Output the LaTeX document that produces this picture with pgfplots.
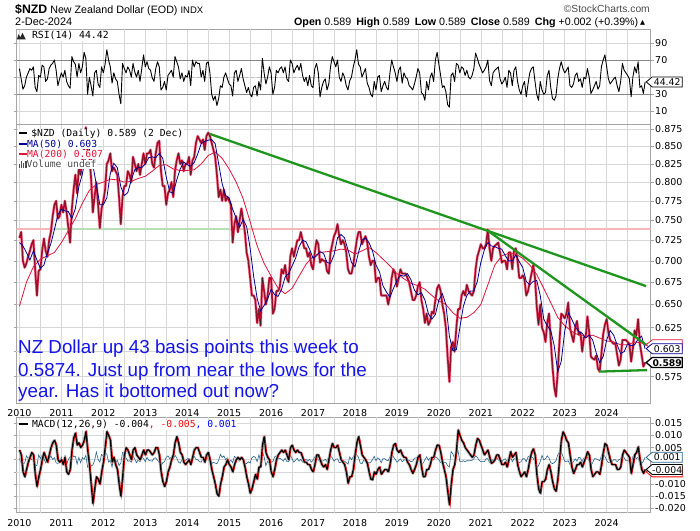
\documentclass[border=0pt]{standalone}
\usepackage{pgfplots}
\pgfplotsset{compat=1.18}
\usepackage{pgfplotstable}
\usepackage{fontspec}
\usetikzlibrary{calc}
\setmainfont{Liberation Sans}
\newfontfamily\dv{DejaVu Sans}
\newfontfamily\dvm{DejaVu Sans Mono}
\definecolor{pricered}{RGB}{210,10,50}
\definecolor{manavy}{RGB}{0,0,150}
\definecolor{macrim}{RGB}{225,20,60}
\definecolor{tgreen}{RGB}{30,150,30}
\definecolor{hpink}{RGB}{244,184,184}
\definecolor{hgreen}{RGB}{184,222,184}
\definecolor{gridc}{RGB}{215,215,215}
\definecolor{framec}{RGB}{165,165,165}
\definecolor{histc}{RGB}{40,100,140}
\definecolor{txtblue}{RGB}{20,20,235}

% semi-monthly rows from Jan 2010: price, RSI, MACD, MACD histogram
\pgfplotstableread{
p r m h
0.728 60 0.004 0.0005
0.735 48 0.002 -0.0013
0.700 36 -0.005 -0.0018
0.692 40 -0.007 -0.0013
0.697 50 -0.004 0.0016
0.705 55 -0.001 0.0005
0.712 60 0.001 0.0013
0.720 58 0.003 0.0001
0.725 62 0.002 0.0002
0.690 38 -0.006 -0.0022
0.660 33 -0.011 -0.0024
0.688 52 -0.007 0.0020
0.690 50 -0.004 0.0005
0.712 64 0.000 0.0020
0.727 62 0.003 0.0005
0.712 45 0.001 -0.0013
0.705 48 -0.001 0.0000
0.725 60 0.002 0.0004
0.735 64 0.005 0.0016
0.755 66 0.007 0.0001
0.770 70 0.008 0.0009
0.775 58 0.006 -0.0013
0.752 40 0.000 -0.0015
0.755 48 -0.001 -0.0009
0.770 55 0.000 0.0010
0.760 50 -0.002 -0.0012
0.775 58 0.001 0.0016
0.760 45 -0.005 -0.0020
0.740 40 -0.006 0.0002
0.722 37 -0.004 0.0012
0.765 74 0.004 0.0030
0.790 68 0.009 0.0012
0.810 65 0.011 0.0014
0.785 50 0.006 -0.0018
0.820 66 0.007 0.0010
0.810 55 0.005 -0.0012
0.830 62 0.006 0.0009
0.845 79 0.008 0.0002
0.878 72 0.0116 0.0018
0.835 30 0.004 -0.0030
0.840 50 -0.002 -0.0016
0.805 40 -0.010 -0.0026
0.760 28 -0.018 -0.0022
0.780 55 -0.012 -0.0004
0.800 58 -0.007 0.0032
0.770 42 -0.008 0.0002
0.740 38 -0.010 -0.0010
0.765 62 -0.005 0.0022
0.775 55 -0.001 0.0014
0.790 65 0.005 0.0026
0.825 82 0.0116 0.0024
0.830 70 0.010 -0.0010
0.840 62 0.008 -0.0002
0.815 43 -0.001 -0.0030
0.820 55 0.001 0.0012
0.815 48 -0.002 -0.0014
0.810 45 -0.004 -0.0002
0.780 30 -0.010 -0.0024
0.745 19 -0.015 -0.0014
0.780 66 -0.007 0.0030
0.795 60 0.002 0.0026
0.795 55 0.005 0.0008
0.815 62 0.004 -0.0006
0.810 58 0.002 -0.0004
0.800 50 0.000 -0.0010
0.835 66 0.004 0.0016
0.825 56 0.005 0.0002
0.815 50 0.002 -0.0012
0.825 58 0.001 0.0000
0.810 45 0.000 -0.0008
0.825 60 0.002 0.0010
0.840 76 0.004 0.0006
0.825 62 0.002 -0.0008
0.840 68 0.004 0.0010
0.840 60 0.004 -0.0002
0.845 58 0.003 -0.0004
0.825 49 0.002 -0.0006
0.820 45 0.003 0.0006
0.840 60 0.005 0.0008
0.855 68 0.005 -0.0002
0.858 62 0.002 -0.0012
0.815 35 -0.005 -0.0026
0.795 38 -0.009 -0.0012
0.795 45 -0.011 -0.0008
0.770 35 -0.009 0.0010
0.785 52 -0.005 0.0016
0.790 55 -0.003 0.0004
0.800 58 0.000 0.0012
0.780 50 0.002 0.0004
0.815 74 0.007 0.0018
0.830 68 0.0095 0.0008
0.840 62 0.007 -0.0010
0.825 48 0.003 -0.0014
0.830 55 0.002 0.0000
0.815 45 -0.001 -0.0012
0.825 52 -0.002 -0.0002
0.825 50 -0.001 0.0004
0.835 58 0.000 0.0006
0.810 40 -0.002 -0.0008
0.830 70 0.001 0.0012
0.835 62 0.004 0.0014
0.855 68 0.005 0.0002
0.865 66 0.005 0.0000
0.860 66 0.003 -0.0008
0.855 50 0.001 -0.0010
0.860 58 0.001 0.0004
0.845 45 -0.001 -0.0008
0.865 66 0.002 0.0012
0.870 68 0.003 0.0004
0.865 55 0.000 -0.0012
0.855 30 -0.004 -0.0016
0.845 23 -0.007 -0.0010
0.835 28 -0.010 -0.0014
0.810 17 -0.014 -0.0016
0.780 25 -0.015 -0.0002
0.790 40 -0.010 0.0022
0.775 38 -0.007 0.0010
0.790 50 -0.003 0.0016
0.775 55 -0.002 0.0000
0.780 48 0.000 0.0008
0.775 42 -0.002 -0.0010
0.770 40 -0.003 -0.0002
0.722 28 -0.005 -0.0012
0.745 55 -0.002 0.0014
0.755 58 0.000 0.0008
0.735 45 0.001 0.0002
0.750 52 0.000 -0.0006
0.765 60 0.001 0.0004
0.750 48 0.000 -0.0004
0.735 40 -0.003 -0.0014
0.710 32 -0.007 -0.0016
0.700 38 -0.010 -0.0008
0.680 30 -0.0138 -0.0014
0.660 27 -0.012 0.0008
0.660 38 -0.009 0.0014
0.655 40 -0.006 0.0010
0.630 28 -0.008 -0.0008
0.645 45 -0.003 0.0020
0.627 35 -0.003 -0.0004
0.680 72 0.006 0.0034
0.665 55 0.0095 0.0012
0.650 42 0.003 -0.0024
0.660 50 0.001 -0.0006
0.680 62 0.000 -0.0016
0.680 55 -0.005 -0.0010
0.640 30 -0.007 -0.0008
0.645 38 -0.004 0.0012
0.665 58 0.000 0.0016
0.665 55 0.002 0.0004
0.670 60 0.003 0.0006
0.690 62 0.004 0.0002
0.685 55 0.003 -0.0006
0.695 62 0.004 0.0006
0.680 48 0.002 -0.0008
0.675 45 0.000 -0.0008
0.705 70 0.005 0.0020
0.715 66 0.006 0.0004
0.705 55 0.004 -0.0010
0.715 60 0.003 -0.0002
0.725 64 0.004 0.0006
0.725 58 0.003 -0.0006
0.735 66 0.003 0.0002
0.725 52 0.001 -0.0010
0.715 45 -0.001 -0.0006
0.715 50 -0.001 0.0002
0.705 40 -0.002 -0.0006
0.710 52 -0.002 0.0002
0.695 40 -0.004 -0.0010
0.690 38 -0.005 -0.0002
0.710 60 -0.002 0.0012
0.725 66 0.002 0.0016
0.720 55 0.002 0.0000
0.698 27 0.000 -0.0008
0.702 38 -0.002 -0.0006
0.700 45 -0.003 -0.0004
0.700 48 -0.002 0.0002
0.688 35 -0.004 -0.0008
0.685 42 0.000 0.0016
0.710 62 0.004 0.0016
0.720 74 0.0067 0.0008
0.730 68 0.005 -0.0006
0.735 62 0.005 0.0002
0.745 70 0.006 0.0004
0.730 50 0.003 -0.0012
0.720 45 0.000 -0.0010
0.725 55 -0.001 -0.0002
0.720 50 -0.002 -0.0006
0.710 40 -0.005 -0.0012
0.690 35 -0.0097 -0.0018
0.685 46 -0.007 0.0012
0.685 50 -0.007 0.0000
0.695 62 -0.004 0.0012
0.710 70 0.002 0.0024
0.725 82 0.007 0.0020
0.735 65 0.0095 0.0010
0.735 62 0.006 -0.0014
0.720 50 0.002 -0.0016
0.725 55 0.001 -0.0002
0.730 60 0.000 -0.0006
0.722 43 -0.0015 -0.0006
0.705 38 -0.005 -0.0014
0.695 30 -0.008 -0.0010
0.700 27 -0.0083 0.0000
0.700 45 -0.005 0.0014
0.675 35 -0.006 -0.0004
0.680 50 -0.004 0.0008
0.680 52 -0.003 0.0002
0.660 33 -0.006 -0.0012
0.660 40 -0.005 0.0004
0.660 45 -0.004 0.0004
0.660 38 -0.004 -0.0002
0.650 35 -0.005 -0.0004
0.660 55 -0.002 0.0012
0.680 70 0.003 0.0020
0.690 62 0.006 0.0012
0.685 55 0.0067 0.0002
0.670 45 0.004 -0.0010
0.680 58 0.003 -0.0004
0.690 62 0.004 0.0004
0.685 43 0.002 -0.0008
0.685 55 0.001 -0.0002
0.685 50 0.001 0.0002
0.680 48 -0.001 -0.0008
0.675 40 -0.002 -0.0002
0.665 38 -0.004 -0.0008
0.655 35 -0.0056 -0.0006
0.655 42 -0.004 0.0006
0.660 50 -0.002 0.0008
0.670 60 0.001 0.0012
0.675 55 0.002 0.0002
0.655 32 -0.003 -0.0020
0.645 30 -0.007 -0.0014
0.630 23 -0.007 0.0000
0.640 45 -0.004 0.0012
0.628 35 -0.004 -0.0002
0.632 50 -0.002 0.0008
0.642 55 0.001 0.0012
0.640 45 0.001 0.0000
0.655 70 0.004 0.0012
0.668 79 0.0061 0.0008
0.672 65 0.006 0.0000
0.665 52 0.003 -0.0012
0.650 38 -0.001 -0.0014
0.640 40 -0.004 -0.0010
0.625 33 -0.007 -0.0012
0.595 18 -0.013 -0.0024
0.570 15 -0.0186 -0.0030
0.605 52 -0.010 0.0034
0.610 55 -0.004 0.0024
0.600 45 -0.002 0.0006
0.625 66 0.004 0.0024
0.645 64 0.0122 0.0036
0.645 55 0.010 -0.0008
0.660 62 0.008 -0.0008
0.665 60 0.007 -0.0004
0.660 52 0.005 -0.0008
0.672 58 0.004 -0.0004
0.665 50 0.003 -0.0004
0.662 48 0.002 -0.0004
0.660 52 0.001 -0.0002
0.665 60 0.002 0.0004
0.690 78 0.006 0.0016
0.705 72 0.0088 0.0010
0.712 65 0.008 -0.0002
0.720 60 0.006 -0.0008
0.715 55 0.004 -0.0008
0.715 58 0.002 -0.0008
0.720 62 0.003 0.0004
0.738 70 0.004 0.0004
0.715 46 0.001 -0.0012
0.700 40 -0.0015 -0.0010
0.715 55 -0.001 0.0002
0.718 58 0.000 0.0004
0.720 60 0.002 0.0008
0.722 62 0.002 0.0000
0.710 48 0.000 -0.0008
0.698 42 -0.002 -0.0008
0.700 45 -0.002 0.0000
0.700 50 -0.001 0.0004
0.690 38 -0.003 -0.0008
0.710 58 0.000 0.0012
0.710 55 0.0033 0.0014
0.690 40 0.001 -0.0008
0.712 58 0.002 0.0004
0.715 62 0.003 0.0004
0.700 45 -0.002 -0.0020
0.680 35 -0.005 -0.0012
0.680 30 -0.007 -0.0008
0.683 40 -0.006 0.0004
0.678 45 -0.005 0.0004
0.660 27 -0.007 -0.0008
0.665 42 -0.004 0.0012
0.675 55 0.000 0.0016
0.685 60 0.003 0.0012
0.695 62 0.0045 0.0006
0.680 45 0.002 -0.0010
0.648 30 -0.006 -0.0032
0.628 23 -0.012 -0.0024
0.650 45 -0.0138 -0.0008
0.625 35 -0.009 0.0018
0.620 30 -0.009 0.0000
0.610 32 -0.008 0.0004
0.630 52 -0.004 0.0016
0.640 58 -0.002 0.0008
0.612 38 -0.005 -0.0012
0.585 25 -0.009 -0.0016
0.565 23 -0.012 -0.0012
0.556 28 -0.013 -0.0004
0.580 48 -0.008 0.0020
0.610 60 0.000 0.0032
0.640 68 0.008 0.0032
0.638 60 0.0115 0.0014
0.635 55 0.010 -0.0006
0.640 58 0.008 -0.0008
0.652 62 0.007 -0.0004
0.625 40 0.002 -0.0020
0.617 38 -0.003 -0.0020
0.610 42 -0.0056 -0.0008
0.625 52 -0.004 0.0004
0.632 55 -0.002 -0.0006
0.618 45 -0.002 0.0010
0.620 48 -0.001 0.0008
0.600 38 -0.003 -0.0008
0.615 50 -0.001 0.0008
0.615 48 0.001 0.0008
0.637 60 0.0033 0.0010
0.620 50 0.002 -0.0006
0.595 31 -0.004 -0.0024
0.593 35 -0.007 -0.0012
0.592 40 -0.006 0.0004
0.596 45 -0.005 0.0004
0.583 36 -0.005 0.0000
0.580 40 -0.006 -0.0004
0.598 62 -0.002 0.0016
0.618 70 0.003 0.0020
0.628 76 0.0067 0.0014
0.634 62 0.006 -0.0002
0.620 48 0.003 -0.0012
0.612 42 0.000 -0.0012
0.610 45 -0.002 -0.0008
0.608 48 -0.002 0.0000
0.608 50 -0.002 0.0000
0.597 40 -0.004 -0.0008
0.586 33 -0.004 0.0000
0.592 45 -0.003 0.0004
0.612 66 0.002 0.0020
0.612 58 0.004 0.0008
0.612 55 0.003 -0.0004
0.610 52 0.002 -0.0004
0.608 48 0.001 -0.0004
0.590 27 -0.0056 -0.0026
0.603 50 -0.002 0.0014
0.622 62 0.002 0.0016
0.617 55 0.003 0.0004
0.634 68 0.0053 0.0010
0.608 38 0.000 -0.0020
0.597 40 -0.004 -0.0016
0.585 31 -0.0056 -0.0006
0.589 44.42 -0.004 0.0010
}\semi

% MA(50), monthly from Jan 2010
\pgfplotstableread{
v
0.722
0.718
0.710
0.701
0.712
0.701
0.691
0.695
0.709
0.721
0.738
0.757
0.764
0.762
0.761
0.752
0.765
0.794
0.811
0.837
0.846
0.824
0.797
0.770
0.770
0.779
0.812
0.826
0.820
0.794
0.782
0.786
0.803
0.817
0.820
0.820
0.825
0.834
0.835
0.834
0.840
0.833
0.807
0.787
0.785
0.803
0.818
0.828
0.824
0.822
0.827
0.839
0.854
0.857
0.859
0.860
0.854
0.825
0.798
0.782
0.779
0.764
0.753
0.741
0.751
0.742
0.715
0.682
0.657
0.643
0.649
0.656
0.667
0.661
0.659
0.667
0.681
0.685
0.694
0.703
0.717
0.725
0.723
0.714
0.703
0.706
0.711
0.709
0.698
0.697
0.707
0.728
0.732
0.728
0.713
0.698
0.693
0.710
0.725
0.728
0.722
0.712
0.695
0.687
0.671
0.664
0.658
0.668
0.677
0.683
0.682
0.685
0.678
0.666
0.661
0.663
0.655
0.640
0.634
0.639
0.655
0.662
0.650
0.616
0.601
0.602
0.625
0.648
0.660
0.665
0.665
0.676
0.698
0.713
0.722
0.718
0.717
0.715
0.714
0.706
0.700
0.700
0.707
0.699
0.692
0.676
0.672
0.676
0.677
0.660
0.634
0.627
0.622
0.606
0.580
0.590
0.621
0.641
0.634
0.626
0.621
0.619
0.614
0.617
0.612
0.599
0.589
0.595
0.612
0.622
0.617
0.607
0.598
0.600
0.608
0.606
0.607
0.613
0.616
0.603
}\maf

% MA(200)
\pgfplotstableread{
t v
2010.000 0.648
2010.167 0.675
2010.333 0.693
2010.500 0.702
2010.667 0.706
2010.833 0.710
2011.000 0.722
2011.167 0.737
2011.333 0.752
2011.500 0.772
2011.667 0.789
2011.833 0.797
2012.000 0.800
2012.167 0.804
2012.333 0.803
2012.500 0.800
2012.667 0.801
2012.833 0.805
2013.000 0.808
2013.167 0.815
2013.333 0.823
2013.500 0.824
2013.667 0.818
2013.833 0.816
2014.000 0.816
2014.167 0.817
2014.333 0.825
2014.500 0.837
2014.667 0.842
2014.833 0.833
2015.000 0.818
2015.167 0.800
2015.333 0.778
2015.500 0.748
2015.667 0.718
2015.833 0.697
2016.000 0.682
2016.167 0.668
2016.333 0.662
2016.500 0.668
2016.667 0.682
2016.833 0.696
2017.000 0.705
2017.167 0.710
2017.333 0.711
2017.500 0.712
2017.667 0.714
2017.833 0.713
2018.000 0.708
2018.167 0.712
2018.333 0.716
2018.500 0.710
2018.667 0.702
2018.833 0.694
2019.000 0.685
2019.167 0.679
2019.333 0.674
2019.500 0.671
2019.667 0.667
2019.833 0.660
2020.000 0.654
2020.167 0.650
2020.333 0.641
2020.500 0.635
2020.667 0.636
2020.833 0.641
2021.000 0.650
2021.167 0.672
2021.333 0.695
2021.500 0.706
2021.667 0.709
2021.833 0.708
2022.000 0.703
2022.167 0.695
2022.333 0.684
2022.500 0.668
2022.667 0.652
2022.833 0.636
2023.000 0.627
2023.167 0.621
2023.333 0.617
2023.500 0.616
2023.667 0.617
2023.833 0.614
2024.000 0.611
2024.167 0.610
2024.333 0.607
2024.500 0.607
2024.667 0.610
2024.833 0.609
2024.917 0.607
}\mat

\pgfplotsset{
 panel/.style={
  scale only axis, width=634.2pt, xmin=2009.93, xmax=2025.05,
  axis line style={draw=framec, line width=0.8pt},
  xtick={2010,2011,2012,2013,2014,2015,2016,2017,2018,2019,2020,2021,2022,2023,2024},
  extra x ticks={2010.5,2011.5,2012.5,2013.5,2014.5,2015.5,2016.5,2017.5,2018.5,2019.5,2020.5,2021.5,2022.5,2023.5,2024.5},
  extra x tick labels={},
  extra x tick style={grid=major, major tick length=0pt},
  extra y tick labels={},
  extra y tick style={grid=major},
  grid=major,
  major grid style={draw=gridc, line width=0.6pt},
  xtick style={draw=none},
  ytick style={draw=framec, line width=0.6pt},
  tick align=outside, major tick length=3pt,
  yticklabel pos=right,
  ticklabel style={font=\dv\fontsize{9.5}{10}\selectfont},
  yticklabel style={anchor=west, xshift=-2pt},
  scaled y ticks=false,
 },
 years/.style={xticklabels={2010,2011,2012,2013,2014,2015,2016,2017,2018,2019,2020,2021,2022,2023,2024}}
}

% value tag: #1 coordinate, #2 text, #3 border colour, #4 border width, #5 font extra
\newcommand\tagshape[3]{%
  \draw[draw=#2, line width=#3, fill=white, line join=miter]
    ($(#1)+(-4.5pt,0pt)$) -- ($(#1)+(1.5pt,5pt)$) -- ($(#1)+(31.5pt,5pt)$)
    -- ($(#1)+(31.5pt,-5pt)$) -- ($(#1)+(1.5pt,-5pt)$) -- cycle;}
\newcommand\tagbox[5]{%
  \tagshape{#1}{#3}{#4}%
  \node[inner sep=0pt, font=\dv\fontsize{9.3}{10}\selectfont#5] at ($(#1)+(16.5pt,-0.2pt)$) {#2};
}

\begin{document}
\begin{tikzpicture}[x=1pt,y=1pt]
\path[use as bounding box] (0,0) rectangle (700,530);
\fill[white] (0,0) rectangle (700,530);

% ---------- RSI panel ----------
\begin{axis}[panel, at={(16.5pt,405.5pt)}, anchor=south west, height=95.2pt,
  ymin=-5.2, ymax=105.8, ytick={10,30,70,90}, extra y ticks={50}, xticklabels={},
  yticklabel style={/pgf/number format/assume math mode=true}]
 \draw[gray!95, line width=0.7pt] (axis cs:2009.93,70) -- (axis cs:2025.05,70);
 \draw[gray!95, line width=0.7pt] (axis cs:2009.93,30) -- (axis cs:2025.05,30);
 \draw[gray!50, dashed, line width=0.6pt] (axis cs:2009.93,50) -- (axis cs:2025.05,50);
 \addplot[black, line width=0.9pt, line join=round] table[x expr=2010+\coordindex/24, y=r]{\semi};
 \coordinate (trsi) at (axis cs:2025.05,44.42);
\end{axis}

% ---------- Price panel ----------
\begin{axis}[panel, years, at={(16.5pt,127pt)}, anchor=south west, height=278.5pt,
  ymode=log, ymin=0.5499, ymax=0.8822,
  ytick={0.575,0.625,0.65,0.675,0.7,0.725,0.75,0.775,0.8,0.825,0.85,0.875},
  extra y ticks={0.6},
  yticklabel={\pgfmathparse{exp(\tick)}\pgfmathprintnumber[fixed,precision=3,zerofill,assume math mode=true]{\pgfmathresult}}]
 \addplot[hpink, line width=2pt] coordinates {(2009.93,0.739) (2010.75,0.739)};
 \addplot[hgreen, line width=2pt] coordinates {(2010.75,0.739) (2015.02,0.739)};
 \addplot[hpink, line width=2pt] coordinates {(2015.02,0.739) (2025.05,0.739)};
 \addplot[pricered!35, line width=2.9pt, line join=round] table[x expr=2010+\coordindex/24, y=p]{\semi};
 \addplot[pricered, line width=1.7pt, line join=round] table[x expr=2010+\coordindex/24, y=p]{\semi};
 \addplot[black!85, line width=0.3pt] table[x expr=2010+\coordindex/24, y=p]{\semi};
 \addplot[macrim, line width=0.8pt] table[x=t, y=v]{\mat};
 \addplot[manavy, line width=0.8pt] table[x expr=2010+\coordindex/12, y=v]{\maf};
 \addplot[tgreen, line width=2.3pt] coordinates {(2014.526,0.8685) (2024.94,0.6706)};
 \addplot[tgreen, line width=2.3pt] coordinates {(2021.16,0.737) (2024.955,0.6067)};
 \addplot[tgreen, line width=2.3pt] coordinates {(2023.82,0.5800) (2024.96,0.5815)};
 \coordinate (t607) at (axis cs:2025.05,0.607);
 \coordinate (t603) at (axis cs:2025.05,0.603);
 \coordinate (t589) at (axis cs:2025.05,0.589);
\end{axis}

% ---------- MACD panel ----------
\begin{axis}[panel, years, at={(16.5pt,17.3pt)}, anchor=south west, height=95.7pt,
  ymin=-0.0218, ymax=0.0176,
  ytick={-0.02,-0.015,-0.01,0.005,0.01,0.015},
  extra y ticks={-0.005,0},
  yticklabel style={/pgf/number format/.cd, fixed, precision=3, zerofill, assume math mode=true}]
 \addplot[histc, line width=0.6pt] table[x expr=2010+\coordindex/24, y=h]{\semi};
 \addplot[gray!55, line width=2.8pt, line join=round] table[x expr=2010+\coordindex/24, y=m]{\semi};
 \addplot[red, line width=0.8pt] table[x expr=2010+\coordindex/24+0.02, y=m]{\semi};
 \addplot[black, line width=1.1pt, line join=round] table[x expr=2010+\coordindex/24, y=m]{\semi};
 \coordinate (tm5) at (axis cs:2025.05,-0.005);
 \coordinate (tm4) at (axis cs:2025.05,-0.004);
 \coordinate (tm1) at (axis cs:2025.05,0.001);
\end{axis}

% ---------- value tags ----------
\tagbox{trsi}{44.42}{black}{0.8pt}{}
\tagshape{t607}{macrim}{0.8pt}
\tagbox{t603}{0.603}{manavy}{0.8pt}{}
\tagbox{t589}{0.589}{black}{1.3pt}{\bfseries}
\tagshape{tm5}{red}{0.8pt}
\tagbox{tm1}{0.001}{histc}{0.8pt}{}
\tagbox{tm4}{-0.004}{black}{0.9pt}{}

% ---------- header ----------
\node[anchor=base west, inner sep=0] at (15,516.7) {{\fontsize{12.3}{14}\selectfont\bfseries \$NZD}\hspace{3pt}{\fontsize{10.7}{12}\selectfont New Zealand Dollar (EOD)}\hspace{3pt}{\fontsize{9.5}{11}\selectfont INDX}};
\node[anchor=base west, inner sep=0, font=\fontsize{10.9}{12}\selectfont] at (15,504) {2-Dec-2024};
\node[anchor=base east, inner sep=0, font=\fontsize{10.7}{12}\selectfont] at (638.5,504) {\textbf{Open} 0.589\hspace{5pt}\textbf{High} 0.589\hspace{5pt}\textbf{Low} 0.589\hspace{5pt}\textbf{Close} 0.589\hspace{5pt}\textbf{Chg} +0.002 (+0.39\%)};
\node[anchor=base west, inner sep=0, font=\dv\fontsize{6.5}{7}\selectfont] at (640,505) {▲};
\node[anchor=base east, inner sep=0, font=\fontsize{10.3}{12}\selectfont, text=black!70] at (650,517) {©StockCharts.com};

% ---------- legends ----------
\fill[black!85] (16.8,490.5) -- (18.6,495.8) -- (20.4,492.6) -- (22.4,497.2) -- (25.8,490.5) -- cycle;
\node[anchor=base west, inner sep=0.6pt, fill=white, font=\dvm\fontsize{9.8}{10}\selectfont] at (31.2,491) {RSI(14) 44.42};

\node[anchor=base west, inner sep=0.6pt, fill=white, font=\dvm\fontsize{9.7}{10}\selectfont] at (17.8,393.4) {\rule[2.6pt]{8.5pt}{1.8pt}\hspace{4.3pt}\$NZD (Daily) 0.589 (2 Dec)};
\node[anchor=base west, inner sep=0.6pt, fill=white, font=\dvm\fontsize{9.7}{10}\selectfont, text=manavy] at (17.8,382.7) {\rule[2.6pt]{8.5pt}{1.8pt}MA(50) 0.603};
\node[anchor=base west, inner sep=0.6pt, fill=white, font=\dvm\fontsize{9.7}{10}\selectfont, text=macrim] at (17.8,372.4) {\rule[2.6pt]{8.5pt}{1.8pt}MA(200) 0.607};
\node[anchor=base west, inner sep=0.6pt, fill=white, font=\dvm\fontsize{9.7}{10}\selectfont, text=black!70] at (17.8,362.2) {\rule{1.6pt}{4pt}\hspace{0.5pt}\rule{1.6pt}{6.5pt}\hspace{0.5pt}\rule{1.6pt}{5pt}\hspace{0.5pt}\rule{1.6pt}{7pt}Volume undef};

\node[anchor=base west, inner sep=0.6pt, fill=white, font=\dvm\fontsize{9.7}{10}\selectfont] at (18.5,102.3) {\rule[2.6pt]{8.5pt}{1.8pt}\hspace{4.3pt}MACD(12,26,9) -0.004\textcolor{red}{, -0.005}\textcolor{blue}{, 0.001}};

% ---------- commentary ----------
\begin{scope}[every node/.style={anchor=base west, inner sep=0, text=txtblue, font=\fontsize{18.8}{22}\selectfont}]
\node at (18,176.7) {NZ Dollar up 43 basis points this week to};
\node at (18,154) {0.5874. Just up from near the lows for the};
\node at (18,132.7) {year. Has it bottomed out now?};
\end{scope}
\end{tikzpicture}
\end{document}
